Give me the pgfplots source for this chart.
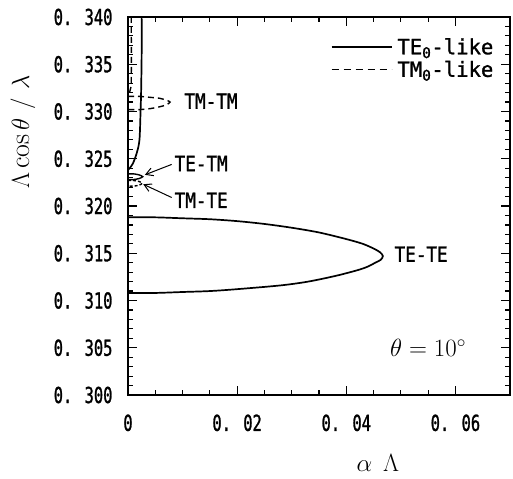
\documentclass[border=0pt]{standalone}
\usepackage{fontspec}
\usepackage{pgfplots}
\pgfplotsset{compat=1.18}
\usetikzlibrary{arrows.meta}
\newfontfamily\monoa[FakeStretch=0.70, FakeBold=1.2]{DejaVu Sans Mono}
\newfontfamily\monob[FakeStretch=0.84, FakeBold=1.2]{DejaVu Sans Mono}
\newfontfamily\monoc[FakeStretch=0.98, FakeBold=1.2]{DejaVu Sans Mono}
\newcommand\tk{\fontsize{22}{24}\monoa}
\newcommand\tx{\fontsize{21}{23}\monob}
\newcommand\tl{\fontsize{21}{23}\monoc}

\begin{document}
\begin{tikzpicture}
\begin{axis}[
  scale only axis, width=382pt, height=378pt,
  xmin=0, xmax=0.07, ymin=0.3, ymax=0.34,
  scaled x ticks=false, scaled y ticks=false,
  xtick={0,0.02,0.04,0.06},
  xticklabels={0,0. 02,0. 04,0. 06},
  ytick={0.300,0.305,0.310,0.315,0.320,0.325,0.330,0.335,0.340},
  yticklabels={0. 300,0. 305,0. 310,0. 315,0. 320,0. 325,0. 330,0. 335,0. 340},
  minor x tick num=3, minor y tick num=4,
  major tick length=9pt, minor tick length=5pt,
  every tick/.style={line width=1.2pt, black},
  axis line style={line width=2pt},
  tick label style={font=\tk},
  xticklabel style={yshift=-16pt},
  yticklabel style={xshift=-12pt},
  xlabel={$\alpha\;\, \Lambda$},
  ylabel={$\Lambda\cos\theta\ /\ \lambda$},
  label style={font=\fontsize{28}{30}\selectfont},
  xlabel style={at={(axis description cs:0.654,-0.18)}, anchor=center},
  ylabel style={at={(axis description cs:-0.275,0.695)}, anchor=center},
  legend style={draw=none, fill=none, font=\tl,
    at={(axis description cs:0.97,0.955)}, anchor=north east,
    row sep=1pt, cells={anchor=west},
    /tikz/every odd column/.append style={column sep=3pt}},
  legend image code/.code={\draw[#1] (0pt,0pt) -- (60pt,0pt);},
]
% TE-TE loop
\addplot[forget plot, line width=1.7pt, smooth, tension=0.5] coordinates {
(0,0.3188) (0.005,0.3188) (0.010,0.3187) (0.015,0.3186) (0.020,0.3184)
(0.025,0.3181) (0.030,0.3177) (0.035,0.3172) (0.040,0.3165) (0.043,0.3160)
(0.045,0.3155) (0.0462,0.3151) (0.0467,0.3147) (0.0463,0.3143) (0.0453,0.3140)
(0.044,0.3136) (0.042,0.3132) (0.038,0.3126) (0.033,0.3120) (0.028,0.3116)
(0.020,0.3112) (0.015,0.3110) (0.010,0.3109) (0.005,0.3108) (0,0.3108)};
% TE0-like branch near the axis
\addplot[forget plot, line width=1.7pt, smooth, tension=0.5] coordinates {
(0.0025,0.340) (0.0025,0.336) (0.0024,0.332) (0.0023,0.330) (0.0021,0.327)
(0.0016,0.3256) (0.0009,0.3245) (0.0003,0.3240) (0,0.3238)};
% TE-TM small loop
\addplot[forget plot, line width=1.4pt, smooth, tension=0.5] coordinates {
(0,0.3234) (0.001,0.3234) (0.002,0.3233) (0.0027,0.3231) (0.002,0.3229)
(0.001,0.3228) (0,0.3228)};
% TM0-like branch near the axis
\addplot[forget plot, line width=1.4pt, dash pattern=on 6pt off 4pt, smooth, tension=0.5] coordinates {
(0.0006,0.340) (0.0006,0.3335) (0.0005,0.3325) (0.0002,0.3319) (0,0.3317)};
% TM-TM loop
\addplot[forget plot, line width=1.4pt, dash pattern=on 6pt off 4pt, smooth, tension=0.5] coordinates {
(0,0.3316) (0.002,0.3316) (0.004,0.3315) (0.0058,0.3314) (0.007,0.3312)
(0.0077,0.3310) (0.007,0.3307) (0.0058,0.3305) (0.004,0.3303) (0.002,0.3302)
(0,0.3302)};
% TM-TE small loop
\addplot[forget plot, line width=1.4pt, dash pattern=on 3pt off 2pt, smooth, tension=0.5] coordinates {
(0,0.3227) (0.001,0.3227) (0.002,0.3226) (0.0026,0.3224) (0.002,0.3222)
(0.001,0.3221) (0,0.3221)};

\addlegendimage{line width=1.7pt}
\addlegendentry{TE\textsubscript{0}-like}
\addlegendimage{line width=1.4pt, dash pattern=on 7pt off 5pt}
\addlegendentry{TM\textsubscript{0}-like}

% annotations
\node[font=\tx, anchor=west] at (axis cs:0.0097,0.3311) {TM-TM};
\node[font=\tx, anchor=west] at (axis cs:0.0079,0.3245) {TE-TM};
\node[font=\tx, anchor=west] at (axis cs:0.0079,0.3206) {TM-TE};
\node[font=\tx, anchor=west] at (axis cs:0.0482,0.3149) {TE-TE};
\node[font=\fontsize{24}{26}\selectfont, anchor=west] at (axis cs:0.0474,0.3050) {$\theta = 10^\circ$};
\draw[line width=1pt, -{Straight Barb[length=7pt,width=8pt]}] (axis cs:0.0080,0.3244) -- (axis cs:0.0031,0.3233);
\draw[line width=1pt, -{Straight Barb[length=7pt,width=8pt]}] (axis cs:0.0080,0.3209) -- (axis cs:0.0028,0.3223);
\end{axis}
\pgfresetboundingbox
\path[use as bounding box] ([shift={(-128pt,-83pt)}]current axis.south west) rectangle ([shift={(3pt,17pt)}]current axis.north east);
\end{tikzpicture}
\end{document}
